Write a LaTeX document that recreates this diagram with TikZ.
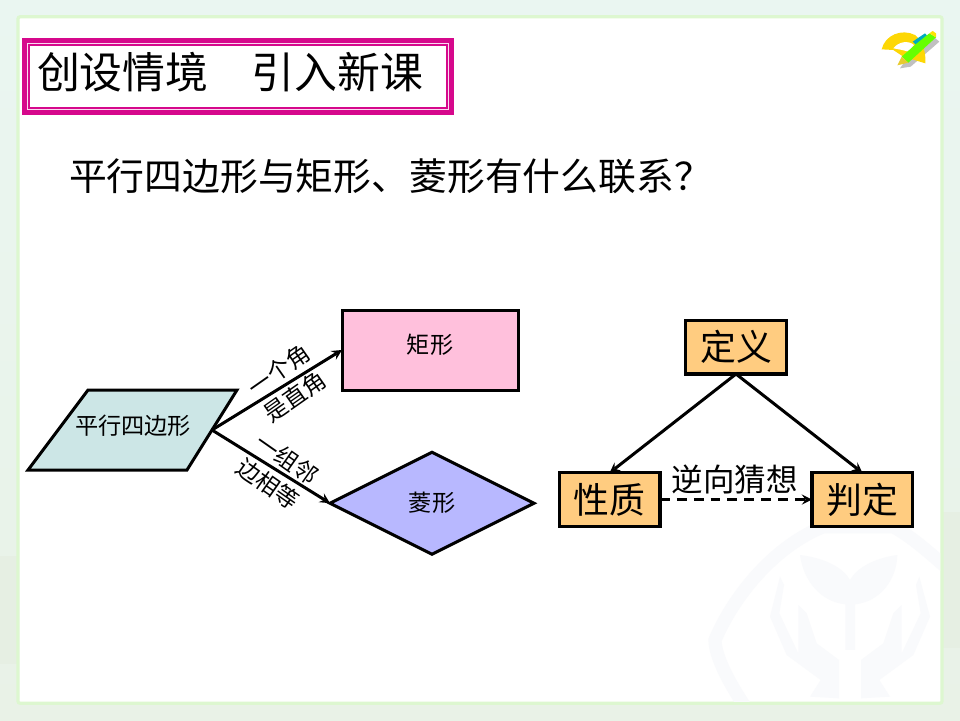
\documentclass[tikz,border=0pt]{standalone}
\usepackage{fontspec}
\setmainfont{Noto Sans CJK SC}
\usetikzlibrary{positioning,shapes.geometric}
\definecolor{bgpale}{HTML}{EAF6F1}
\definecolor{bgpaleb}{HTML}{E9F2E7}
\definecolor{bgbuilding}{HTML}{E6EFE3}
\definecolor{framegreen}{HTML}{DDF7D0}
\definecolor{titlepink}{HTML}{D6088C}
\definecolor{titlepale}{HTML}{FADAF0}
\definecolor{boxorange}{HTML}{FFCC80}
\definecolor{boxpink}{HTML}{FFC0DC}
\definecolor{boxblue}{HTML}{B8B8FF}
\definecolor{boxcyan}{HTML}{CCE6E6}
\definecolor{markgray}{HTML}{F9FAFC}
\tikzset{
	shapebox/.style = {draw = black, line width = 0.075cm, inner sep = 0, outer sep = 0, font = \fontsize{16.5}{18}\selectfont},
	keybox/.style = {draw = black, fill = boxorange, line width = 0.08cm, inner sep = 0, outer sep = 0, minimum width = 2.52cm, minimum height = 1.34cm, font = \fontsize{25.5}{28}\selectfont},
	linkline/.style = {->, >=stealth, line width = 0.075cm},
	sidetext/.style = {font = \fontsize{16.5}{18}\selectfont, inner sep = 0}
}
\begin{document}
\begin{tikzpicture}
	\useasboundingbox (0, 0) rectangle (24, 18);
	% 背景
	\shade [top color = bgpale, bottom color = bgpaleb] (0, 0) rectangle (24, 18);
	\fill [bgbuilding] (0, 1.4) rectangle (0.45, 4.1);
	\fill [bgbuilding] (23.55, 1.8) rectangle (24, 5.2);
	\filldraw [fill = white, draw = framegreen, line width = 0.08cm, rounded corners = 0.05cm] (0.45, 0.42) rectangle (23.55, 17.58);
	% 水印
	\begin{scope}
		\clip (0.5, 0.47) rectangle (23.5, 17.53);
		\begin{scope}[shift = {(17.25, 5.75)}, x = 1cm/120, y = -1cm/120]
			\draw [markgray, line width = 0.33cm] (200, 700) .. controls (120, 590) and (75, 500) .. (75, 450) .. controls (130, 320) and (250, 170) .. (400, 110) -- (610, 110) .. controls (680, 150) and (730, 200) .. (790, 250);
			\fill [markgray] (330, 195) .. controls (410, 205) and (460, 235) .. (480, 270) .. controls (500, 235) and (550, 205) .. (622, 195) .. controls (620, 270) and (570, 335) .. (495, 343) -- (495, 480) -- (466, 480) -- (466, 343) .. controls (390, 335) and (340, 270) .. (330, 195) -- cycle;
			\fill [markgray] (270, 260) -- (282, 285) -- (268, 370) -- (325, 490) -- (325, 345) -- (350, 370) -- (380, 460) -- (447, 510) -- (447, 625) -- (360, 620) -- (392, 570) -- (290, 495) -- (240, 380) -- cycle;
			\fill [markgray] (688, 260) -- (678, 285) -- (692, 370) -- (635, 490) -- (635, 345) -- (610, 370) -- (580, 460) -- (513, 510) -- (513, 625) -- (600, 620) -- (568, 570) -- (670, 495) -- (720, 380) -- cycle;
		\end{scope}
	\end{scope}
	% 标题
	\filldraw [fill = titlepale, draw = titlepink, line width = 0.125cm] (0.6125, 15.19) rectangle (11.29, 16.99);
	\filldraw [fill = white, draw = titlepink, line width = 0.03cm] (0.725, 15.3) rectangle (11.175, 16.875);
	\node (title) [anchor = west, inner sep = 0, font = \fontsize{30.5}{32}\selectfont] at (0.92, 16.2) {创设情境\hspace{1em}引入新课};
	\node (question) [anchor = west, inner sep = 0, font = \fontsize{26.9}{30}\selectfont] at (1.72, 13.6) {平行四边形与矩形、菱形有什么联系？};
	% 图标
	\begin{scope}[shift = {(21, 18)}, x = 1cm/120, y = -1cm/120]
		\fill [black!35, opacity = 0.7] (180, 205) -- (196, 182) -- (280, 110) -- (298, 125) -- (212, 200) -- cycle;
		\fill [yellow!75!orange] (125, 148) .. controls (135, 105) and (185, 85) .. (225, 105) .. controls (250, 125) and (258, 160) .. (256, 190) -- (190, 170) -- (160, 150) -- cycle;
		\fill [white] (160, 145) .. controls (175, 125) and (205, 120) .. (222, 135) -- (205, 155) .. controls (190, 150) and (175, 148) .. cycle;
		\fill [cyan!70!green] (218, 125) -- (255, 100) -- (262, 108) -- (228, 135) -- cycle;
		\fill [green!60!yellow] (185, 170) -- (228, 132) -- (268, 100) -- (288, 112) -- (205, 188) -- cycle;
		\fill [yellow!85!orange] (268, 100) -- (278, 93) -- (288, 100) -- (288, 112) -- cycle;
		\fill [yellow!60!brown] (172, 196) -- (185, 170) -- (205, 188) -- cycle;
	\end{scope}
	% 左边的图
	\filldraw [fill = boxcyan, draw = black, line width = 0.075cm] (0.7, 6.25) -- (4.675, 6.25) -- (5.925, 8.25) -- (2.2, 8.25) -- cycle;
	\coordinate (parallelout) at (5.3, 7.25);
	\node (parallel) [inner sep = 0, font = \fontsize{16.5}{18}\selectfont] at (3.33, 7.35) {平行四边形};
	\node (rect) [shapebox, fill = boxpink, minimum width = 4.4cm, minimum height = 2cm, text depth = 0.3cm] at (10.75, 9.25) {矩形};
	\node (rhomb) [shapebox, fill = boxblue, diamond, minimum width = 5.1cm, minimum height = 2.55cm] at (10.8, 5.42) {菱形};
	\draw [linkline] (parallelout) -- (rect.west);
	\draw [linkline] (parallelout) -- (rhomb.west);
	\node (labela) [sidetext, rotate = 35] at (6.98, 8.75) {一个角};
	\node (labelb) [sidetext, rotate = 35] at (7.38, 8.08) {是直角};
	\node (labelc) [sidetext, rotate = -35] at (7.18, 6.53) {一组邻};
	\node (labeld) [sidetext, rotate = -35] at (6.7, 5.9) {边相等};
	% 右边的图
	\node (define) [keybox] at (18.4, 9.32) {定义};
	\node (prop) [keybox] at (15.24, 5.51) {性质};
	\node (judge) [keybox] at (21.56, 5.51) {判定};
	\draw [linkline] (define.south) -- (prop.north);
	\draw [linkline] (define.south) -- (judge.north);
	\draw [linkline, dash pattern = on 7pt off 5pt] (prop.east) -- (judge.west);
	\node (guess) [inner sep = 0, font = \fontsize{22.4}{24}\selectfont] at (18.37, 6.02) {逆向猜想};
\end{tikzpicture}
\end{document}
